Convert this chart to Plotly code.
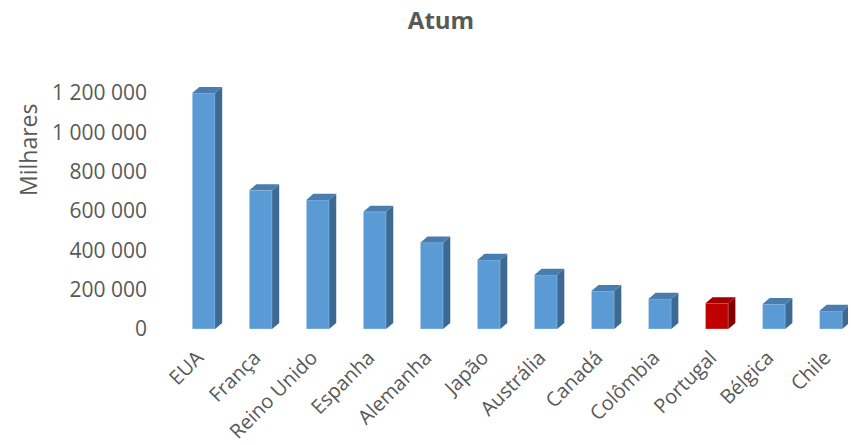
import plotly.graph_objects as go

# Tuna ("Atum") values by country, in thousands
countries = ["EUA", "França", "Reino Unido", "Espanha", "Alemanha", "Japão",
             "Austrália", "Canadá", "Colômbia", "Portugal", "Bélgica", "Chile"]
values = [1200000, 705000, 656000, 596000, 439000, 351000,
          275000, 193000, 153000, 131000, 126000, 92000]
highlight = "Portugal"

y_ticks = [0, 200000, 400000, 600000, 800000, 1000000, 1200000]

# colours for front, side and top faces
blue = ("#5B9BD5", "#3C6A94", "#4A7CAD")
red = ("#C00000", "#870000", "#A30000")

bar_w = 0.4          # front face width (category units)
depth_x = 0.125      # oblique depth, x (category units)
depth_y = 31000      # oblique depth, y (value units)

fig = go.Figure()

xs = list(range(len(countries)))
front_colors = [(red if c == highlight else blue)[0] for c in countries]

fig.add_trace(go.Bar(
    x=xs, y=values, width=bar_w,
    marker=dict(color=front_colors, line=dict(width=0.6, color="rgba(255,255,255,0.5)")),
    hoverinfo="x+y", showlegend=False,
))

for i, (c, v) in enumerate(zip(countries, values)):
    pal = red if c == highlight else blue
    xl, xr = i - bar_w / 2, i + bar_w / 2
    # side face
    fig.add_trace(go.Scatter(
        x=[xr, xr + depth_x, xr + depth_x, xr, xr],
        y=[0, depth_y, v + depth_y, v, 0],
        fill="toself", fillcolor=pal[1], mode="lines",
        line=dict(width=0, color=pal[1]), hoverinfo="skip", showlegend=False,
    ))
    # top face
    fig.add_trace(go.Scatter(
        x=[xl, xr, xr + depth_x, xl + depth_x, xl],
        y=[v, v, v + depth_y, v + depth_y, v],
        fill="toself", fillcolor=pal[2], mode="lines",
        line=dict(width=0, color=pal[2]), hoverinfo="skip", showlegend=False,
    ))

grey = "#595959"
fig.update_layout(
    width=851, height=445,
    margin=dict(l=178, r=3, t=80, b=105),
    paper_bgcolor="white", plot_bgcolor="white",
    separators=". ",
    font=dict(family="Open Sans", color=grey, size=20),
    title=dict(text="<b>Atum</b>", x=441 / 851, xanchor="center",
               y=1 - 21 / 445, yanchor="middle", yref="container",
               font=dict(size=24, color=grey, family="Open Sans")),
    xaxis=dict(range=[-0.45, 11.3], tickvals=xs, ticktext=countries,
               tickangle=-45, showgrid=False, zeroline=False, showline=False,
               ticks="", ticklabelstandoff=1, ticklabelshift=-6, automargin=False,
               tickfont=dict(size=20, color=grey)),
    yaxis=dict(range=[-56000, 1266000], tickvals=y_ticks, tickformat=",d",
               showgrid=False, zeroline=False, showline=False, ticks="",
               ticklabelstandoff=30, automargin=False,
               tickfont=dict(size=21, color=grey)),
    annotations=[dict(text="Milhares", textangle=-90, xref="paper", yref="paper",
                      x=(28 - 178) / 670, y=(340 - 150) / 260,
                      xanchor="center", yanchor="middle", showarrow=False,
                      font=dict(size=23, color=grey, family="Open Sans"))],
)

fig.write_html("out.html")
